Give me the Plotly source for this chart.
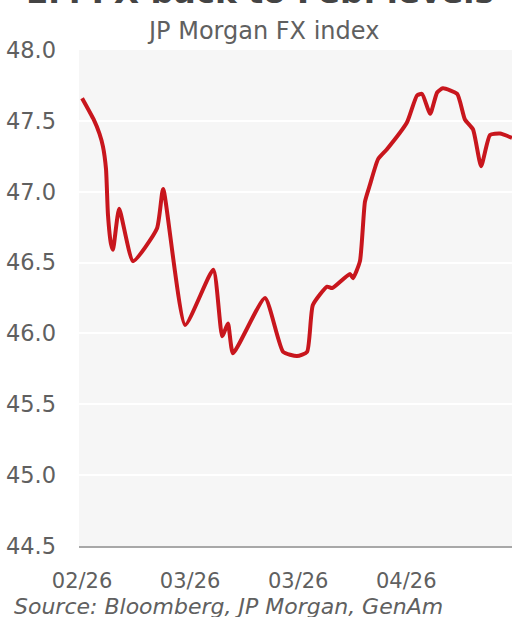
import plotly.graph_objects as go

# Trading-day index (approx.) and JP Morgan EM FX index level
days = [0.0, 3.0, 4.5, 5.4, 6.2, 6.7, 7.5, 8.0, 9.6, 13.2, 19.4, 21.0, 26.7,
        34.0, 36.3, 37.8, 39.1, 47.4, 52.1, 55.7, 58.3, 59.8, 63.5, 64.8,
        69.4, 70.2, 72.0, 73.3, 74.6, 76.7, 79.0, 84.2, 86.8, 88.1, 90.2,
        92.0, 93.5, 97.2, 99.2, 101.3, 103.4, 105.7, 108.3, 111.4]
fx_index = [47.66, 47.51, 47.41, 47.32, 47.16, 46.84, 46.63, 46.59, 46.88,
            46.51, 46.74, 47.02, 46.06, 46.45, 45.98, 46.07, 45.86, 46.25,
            45.87, 45.84, 45.87, 46.20, 46.33, 46.32, 46.42, 46.39, 46.51,
            46.93, 47.05, 47.23, 47.30, 47.49, 47.68, 47.69, 47.55, 47.70,
            47.73, 47.69, 47.51, 47.44, 47.18, 47.40, 47.41, 47.38]

tick_days = [0, 28, 56, 84]
tick_labels = ["02/26", "03/26", "03/26", "04/26"]
y_ticks = [44.5, 45.0, 45.5, 46.0, 46.5, 47.0, 47.5, 48.0]

title_text = "EM FX back to Feb. levels"
subtitle_text = "JP Morgan FX index"
source_text = "Source: Bloomberg, JP Morgan, GenAm"

FONT = "DejaVu Sans"
GRAY = "#606060"

fig = go.Figure()
fig.add_trace(go.Scatter(
    x=days, y=fx_index, mode="lines",
    line=dict(color="#c8161d", width=4, shape="spline", smoothing=0.5),
    hoverinfo="skip", showlegend=False,
))

fig.update_layout(
    width=512, height=617,
    margin=dict(l=79, r=0, t=50, b=71, autoexpand=False),
    paper_bgcolor="white",
    plot_bgcolor="#f6f6f6",
    font=dict(family=FONT, color=GRAY, size=21),
    xaxis=dict(
        range=[-0.8, 111.4],
        tickvals=tick_days, ticktext=tick_labels,
        showgrid=False, zeroline=False,
        showline=True, linecolor="#a8a8a8", linewidth=2,
        ticks="", ticklabelstandoff=15,
        tickfont=dict(family=FONT, size=21, color=GRAY),
        fixedrange=True,
    ),
    yaxis=dict(
        range=[44.5, 48.0],
        tickvals=y_ticks, ticktext=[f"{v:.1f}" for v in y_ticks],
        showgrid=True, gridcolor="white", gridwidth=2,
        zeroline=False, showline=False, ticks="",
        ticklabelstandoff=22,
        tickfont=dict(family=FONT, size=22.5, color=GRAY),
        fixedrange=True,
    ),
    annotations=[
        dict(text="<b>" + title_text + "</b>", xref="paper", yref="paper",
             x=0.418, y=1.116, xanchor="center", yanchor="middle",
             showarrow=False, font=dict(family=FONT, size=32.5, color="#444444")),
        dict(text=subtitle_text, xref="paper", yref="paper",
             x=0.425, y=1.039, xanchor="center", yanchor="middle",
             showarrow=False, font=dict(family=FONT, size=24, color=GRAY)),
        dict(text="<i>" + source_text + "</i>", xref="paper", yref="paper",
             x=-0.155, y=-0.121, xanchor="left", yanchor="middle",
             showarrow=False, font=dict(family=FONT, size=22, color=GRAY)),
    ],
)

fig.write_html("out.html", config={"displayModeBar": False},
               post_script="document.body.style.margin='0';")
